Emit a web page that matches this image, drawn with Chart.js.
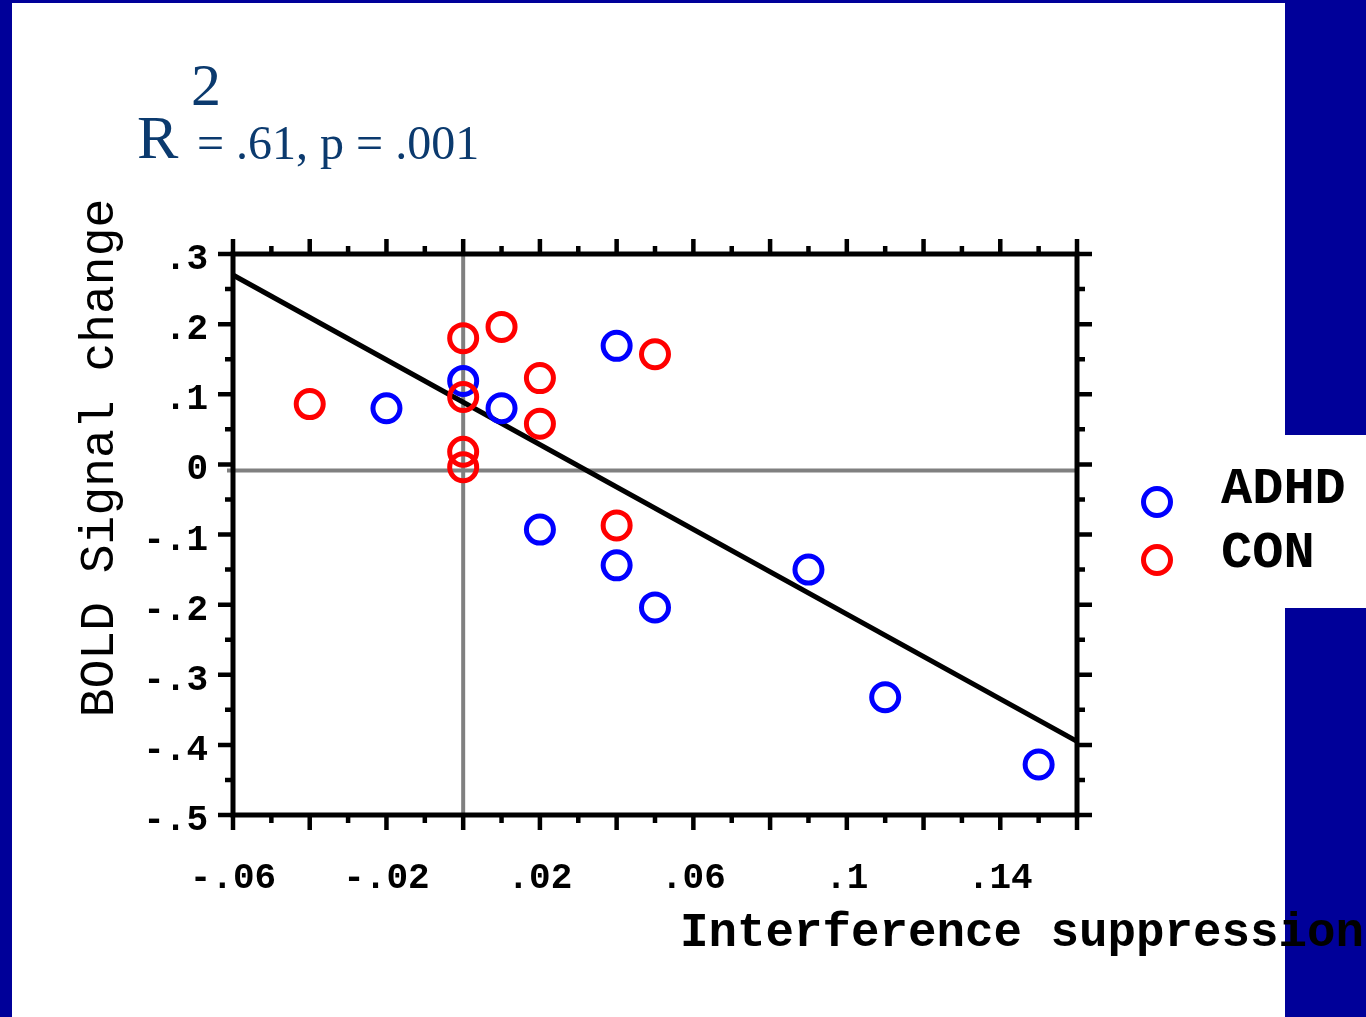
<!DOCTYPE html>
<html>
<head>
<meta charset="utf-8">
<script src="https://cdn.jsdelivr.net/npm/chart.js@4.4.1/dist/chart.umd.min.js"></script>
<style>
  html, body { margin: 0; padding: 0; background: #000099; overflow: hidden; }
  #wrap { width: 1366px; height: 1017px; }
</style>
</head>
<body>
<div id="wrap"><canvas id="c" width="1366" height="1017"></canvas></div>
<script>
// ---------- data ----------
const seriesNames = ['ADHD', 'CON'];
const adhdX = [-0.02, 0, 0.01, 0.04, 0.02, 0.04, 0.05, 0.09, 0.11, 0.15];
const adhdY = [0.08, 0.119, 0.08, 0.169, -0.093, -0.144, -0.204, -0.15, -0.332, -0.428];
const conX = [-0.04, 0, 0.01, 0, 0.02, 0.02, 0, 0, 0.05, 0.04];
const conY = [0.086, 0.18, 0.196, 0.096, 0.123, 0.058, 0.018, -0.004, 0.157, -0.087];
const fitX = [-0.06, 0.16];
const fitY = [0.270, -0.395];
const xTickLabels = [-0.06, -0.02, 0.02, 0.06, 0.1, 0.14];
const xMajorTicks = [-0.06, -0.04, -0.02, 0, 0.02, 0.04, 0.06, 0.08, 0.1, 0.12, 0.14, 0.16];
const xMinorTicks = [-0.05, -0.03, -0.01, 0.01, 0.03, 0.05, 0.07, 0.09, 0.11, 0.13, 0.15];
const yTickLabels = [0.3, 0.2, 0.1, 0, -0.1, -0.2, -0.3, -0.4, -0.5];
const yMinorTicks = [0.25, 0.15, 0.05, -0.05, -0.15, -0.25, -0.35, -0.45];
const titleMain = 'R';
const titleSup = '2';
const titleRest = '= .61, p = .001';
const xTitle = 'Interference suppression';
const yTitle = 'BOLD Signal change';

// ---------- helpers ----------
function fmt(v) {
  if (Math.abs(v) < 1e-9) return '0';
  let s = String(Math.round(v * 100) / 100);
  return s.replace('0.', '.');
}
const pts = (xs, ys) => xs.map((x, i) => ({ x: x, y: ys[i] }));
const MONO = "'Liberation Mono', 'Courier New', monospace";
const SERIF = "'Liberation Serif', 'Times New Roman', serif";
const BLUE = '#0000ff', RED = '#ff0000', NAVY = '#0b3a6e', BG = '#000099';

const decor = {
  id: 'decor',
  beforeDraw(chart) {
    const ctx = chart.ctx;
    ctx.save();
    ctx.fillStyle = BG;
    ctx.fillRect(0, 0, 1366, 1017);
    ctx.fillStyle = '#ffffff';
    ctx.fillRect(12, 3, 1273, 1014);
    ctx.fillRect(1285, 435, 81, 173);
    ctx.restore();
  },
  beforeDatasetsDraw(chart) {
    const { ctx, chartArea: a, scales: { x, y } } = chart;
    ctx.save();
    ctx.strokeStyle = '#808080';
    ctx.lineWidth = 4;
    const px = x.getPixelForValue(0), py = y.getPixelForValue(0) + 6;
    ctx.beginPath();
    ctx.moveTo(px, a.top); ctx.lineTo(px, a.bottom);
    ctx.moveTo(a.left - 6, py); ctx.lineTo(a.right, py);
    ctx.stroke();
    ctx.restore();
  },
  afterDraw(chart) {
    const { ctx, chartArea: a, scales: { x, y } } = chart;
    ctx.save();
    // frame
    ctx.strokeStyle = '#000';
    ctx.lineWidth = 5;
    ctx.strokeRect(a.left, a.top, a.right - a.left, a.bottom - a.top);
    // ticks
    ctx.lineWidth = 4.5;
    const tick = (px, len, vertical) => {
      ctx.beginPath();
      if (vertical) {
        ctx.moveTo(px, a.bottom); ctx.lineTo(px, a.bottom + len);
        ctx.moveTo(px, a.top); ctx.lineTo(px, a.top - len);
      } else {
        ctx.moveTo(a.left, px); ctx.lineTo(a.left - len, px);
        ctx.moveTo(a.right, px); ctx.lineTo(a.right + len, px);
      }
      ctx.stroke();
    };
    xMajorTicks.forEach(v => tick(x.getPixelForValue(v), 15, true));
    xMinorTicks.forEach(v => tick(x.getPixelForValue(v), 8, true));
    yTickLabels.forEach(v => tick(y.getPixelForValue(v), 15, false));
    yMinorTicks.forEach(v => tick(y.getPixelForValue(v), 8, false));

    // title
    ctx.fillStyle = NAVY;
    ctx.textBaseline = 'alphabetic';
    ctx.textAlign = 'left';
    ctx.font = '62px ' + SERIF;
    ctx.fillText(titleMain, 137, 158);
    ctx.font = '60px ' + SERIF;
    ctx.fillText(titleSup, 191, 105);
    ctx.font = '48px ' + SERIF;
    ctx.fillText(titleRest, 197, 159);

    // y title
    ctx.fillStyle = '#000';
    ctx.save();
    ctx.translate(113, 458);
    ctx.rotate(-Math.PI / 2);
    ctx.font = '48px ' + MONO;
    ctx.textAlign = 'center';
    ctx.fillText(yTitle, 0, 0);
    ctx.restore();

    // x title
    ctx.font = 'bold 47.5px ' + MONO;
    ctx.textAlign = 'left';
    ctx.fillText(xTitle, 680, 946);

    // legend
    const items = [
      { name: seriesNames[0], color: BLUE, cy: 502, ty: 503 },
      { name: seriesNames[1], color: RED, cy: 560, ty: 567 }
    ];
    items.forEach(it => {
      ctx.strokeStyle = it.color;
      ctx.lineWidth = 5;
      ctx.beginPath();
      ctx.arc(1157, it.cy, 13.5, 0, Math.PI * 2);
      ctx.stroke();
      ctx.fillStyle = '#000';
      ctx.font = 'bold 52px ' + MONO;
      ctx.fillText(it.name, 1221, it.ty);
    });
    ctx.restore();
  }
};

const pointStyleOpts = {
  pointStyle: 'circle', pointRadius: 13.5, pointHoverRadius: 13.5,
  pointBorderWidth: 5, pointHoverBorderWidth: 5, borderWidth: 5,
  pointBackgroundColor: 'rgba(0,0,0,0)', backgroundColor: 'rgba(0,0,0,0)'
};

new Chart(document.getElementById('c'), {
  type: 'scatter',
  data: {
    datasets: [
      Object.assign({ label: seriesNames[1], data: pts(conX, conY), order: 0,
        borderColor: RED, pointBorderColor: RED }, pointStyleOpts),
      Object.assign({ label: seriesNames[0], data: pts(adhdX, adhdY), order: 1,
        borderColor: BLUE, pointBorderColor: BLUE }, pointStyleOpts),
      {
        type: 'line', label: 'fit', data: pts(fitX, fitY), order: 2,
        borderColor: '#000', borderWidth: 5, pointRadius: 0, showLine: true, fill: false
      }
    ]
  },
  options: {
    responsive: false,
    animation: false,
    devicePixelRatio: 1,
    layout: { padding: { left: 0, top: 254, right: 289, bottom: 0 } },
    plugins: { legend: { display: false }, tooltip: { enabled: false }, title: { display: false } },
    scales: {
      x: {
        type: 'linear', min: -0.06, max: 0.16, offset: false,
        grid: { display: false, drawTicks: false },
        border: { display: false },
        afterBuildTicks: s => { s.ticks = xTickLabels.map(v => ({ value: v })); },
        afterFit: s => { s.height = 202; },
        ticks: {
          autoSkip: false, maxRotation: 0, minRotation: 0, padding: 42,
          color: '#000', font: { family: MONO, size: 36, weight: 'bold' },
          callback: v => fmt(v)
        }
      },
      y: {
        type: 'linear', min: -0.5, max: 0.3,
        grid: { display: false, drawTicks: false },
        border: { display: false },
        afterBuildTicks: s => { s.ticks = yTickLabels.map(v => ({ value: v })); },
        afterFit: s => { s.width = 233; },
        ticks: {
          autoSkip: false, padding: 25, labelOffset: 6,
          color: '#000', font: { family: MONO, size: 36, weight: 'bold' },
          callback: v => fmt(v)
        }
      }
    }
  },
  plugins: [decor]
});
</script>
</body>
</html>
